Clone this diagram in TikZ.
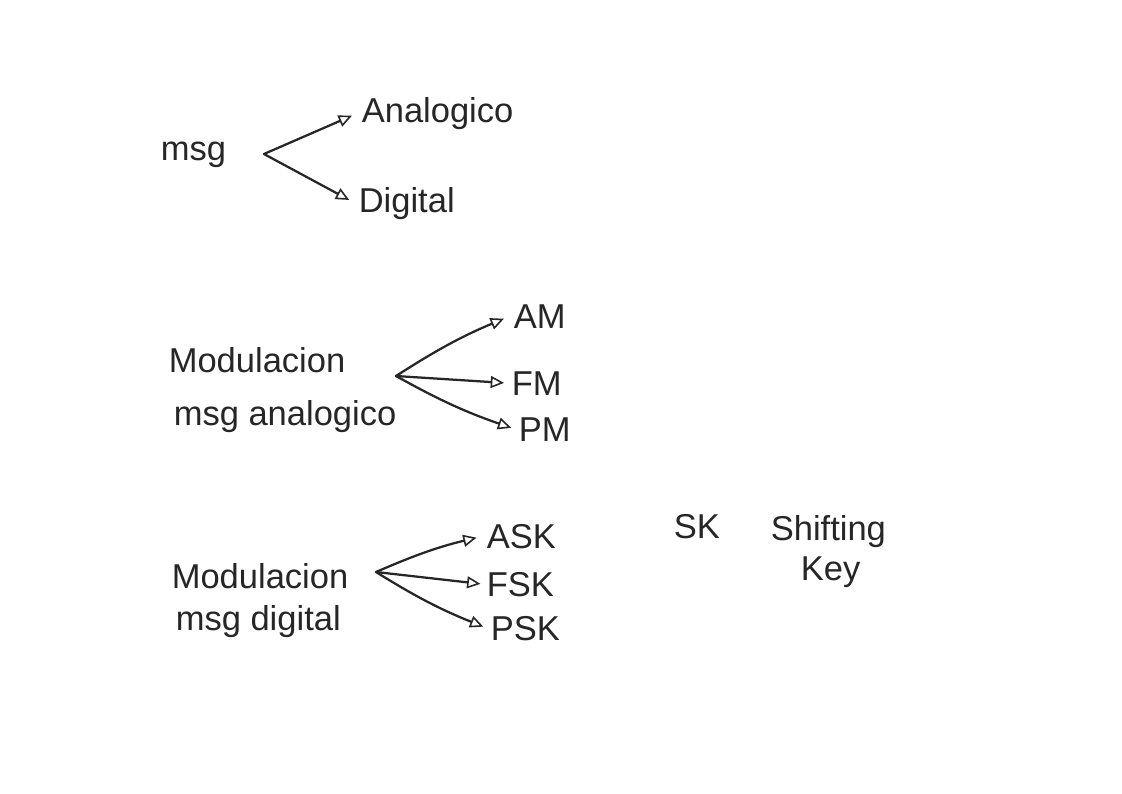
\documentclass[tikz,border=0pt]{standalone}
\usepackage{fontspec}
\setmainfont{Liberation Sans}
\usetikzlibrary{arrows.meta}
\tikzset{>={Triangle[open,length=10pt,width=9pt,line width=1.2pt]}}
\tikzset{hand/.style={anchor=base west,inner sep=2pt,font=\fontsize{26}{30}\selectfont}}

\begin{document}
\begin{tikzpicture}[x=0.02647cm,y=-0.02647cm,line width=1.7pt,line cap=round,color=black!85]
      \useasboundingbox (0,0) rectangle (1122,793);
      % msg
      \node[hand] (msg) at (157,160) {msg};
      \node[hand] (ana) at (358,122) {Analogico};
      \node[hand] (dig) at (355,212) {Digital};
      \coordinate (msgout) at (264,154);
      \draw[->,shorten >=5pt] (msgout) -- (ana.west);
      \draw[->,shorten >=5pt] (msgout) -- (dig.west);
      % modulacion analogica
      \node[hand] (modA) at (165,372) {Modulacion};
      \node[hand] (msgA) at (170,425) {msg analogico};
      \node[hand] (am) at (510,328) {AM};
      \node[hand] (fm) at (508,395) {FM};
      \node[hand] (pm) at (515,441) {PM};
      \coordinate (modAout) at (396,376);
      \draw[->,shorten >=5pt] (modAout) to[bend left=5] (am.west);
      \draw[->,shorten >=3pt] (modAout) -- (fm.west);
      \draw[->,shorten >=3pt] (modAout) to[bend right=5] (pm.west);
      % modulacion digital
      \node[hand] (modD) at (168,588) {Modulacion};
      \node[hand] (msgD) at (172,630) {msg digital};
      \node[hand] (ask) at (483,548) {ASK};
      \node[hand] (fsk) at (483,596) {FSK};
      \node[hand] (psk) at (487,640) {PSK};
      \coordinate (modDout) at (376,572);
      \draw[->,shorten >=5pt] (modDout) to[bend left=5] (ask.west);
      \draw[->,shorten >=2pt] (modDout) -- (fsk.west);
      \draw[->,shorten >=3pt] (modDout) to[bend right=5] (psk.west);
      % SK
      \node[hand] (sk) at (670,538) {SK};
      \node[hand] (shift) at (767,540) {Shifting};
      \node[hand] (key) at (797,580) {Key};
    \end{tikzpicture}
\end{document}
